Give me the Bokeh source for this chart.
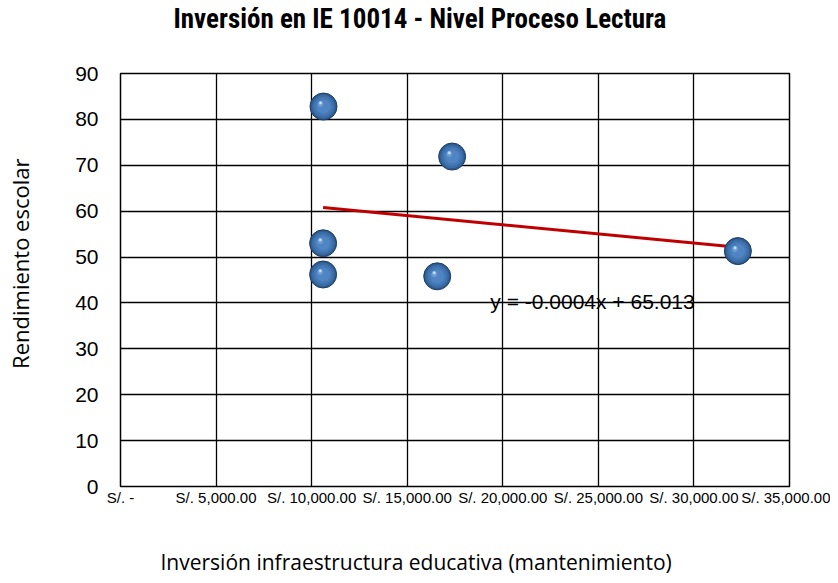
import numpy as np
from bokeh.plotting import figure
from bokeh.models import FixedTicker, Label, Title, ColumnDataSource
from bokeh.core.properties import value
from bokeh.embed import file_html
from bokeh.resources import INLINE

# ---- data ----
inversion = [10620, 17350, 10600, 10600, 16570, 32300]
rendimiento = [82.8, 71.9, 53.0, 46.2, 45.8, 51.3]
x_ticks = [0, 5000, 10000, 15000, 20000, 25000, 30000, 35000]
x_tick_labels = ["S/. -", "S/. 5,000.00", "S/. 10,000.00", "S/. 15,000.00",
                 "S/. 20,000.00", "S/. 25,000.00", "S/. 30,000.00", "S/. 35,000.00"]
y_ticks = [0, 10, 20, 30, 40, 50, 60, 70, 80, 90]
equation_text = "y = -0.0004x + 65.013"
title_text = "Inversión en IE 10014 - Nivel Proceso Lectura"
x_label = "Inversión infraestructura educativa (mantenimiento)"
y_label = "Rendimiento escolar"

p = figure(width=830, height=575, output_backend="svg", toolbar_location=None,
           x_range=(0, 35000), y_range=(0, 90),
           min_border_left=120, min_border_right=41, min_border_top=73, min_border_bottom=89)
p.title.visible = False

p.outline_line_color = "black"
p.outline_line_width = 1.5

# axes
p.xaxis.ticker = FixedTicker(ticks=x_ticks)
p.xaxis.major_label_overrides = {t: l for t, l in zip(x_ticks, x_tick_labels)}
p.yaxis.ticker = FixedTicker(ticks=y_ticks)
for ax in (p.xaxis, p.yaxis):
    ax.axis_line_color = None
    ax.major_tick_line_color = None
    ax.minor_tick_line_color = None
    ax.major_tick_out = 0
    ax.major_tick_in = 0
    ax.major_label_text_color = "black"
    ax.major_label_text_font = "Liberation Sans"
p.xaxis.major_label_text_font_size = "15px"
p.xaxis.major_label_standoff = 2
p.yaxis.major_label_text_font_size = "21px"
p.yaxis.major_label_standoff = 22

# grid
p.xgrid.ticker = FixedTicker(ticks=x_ticks)
p.ygrid.ticker = FixedTicker(ticks=y_ticks)
for g in (p.xgrid, p.ygrid):
    g.grid_line_color = "black"
    g.grid_line_width = 1.3

# trendline
m, b = np.polyfit(inversion, rendimiento, 1)
tx = np.array([min(inversion), max(inversion)])
p.line(tx, m * tx + b, line_color="#c00000", line_width=3)

# sphere markers
src = ColumnDataSource(dict(x=inversion, y=rendimiento))
p.scatter("x", "y", source=src, size=27, fill_color="#2f5b8f", line_color="#1d3d63", line_width=1)
for s, c in [(23, "#3a6ca6"), (19, "#4479b6"), (14, "#4e85c2")]:
    p.scatter("x", "y", source=src, size=s, fill_color=c, line_color=None)
p.text("x", "y", source=src, text=value("●"), text_font_size="13px", text_color="#6d9bd2",
       text_align="center", text_baseline="middle", x_offset=-3, y_offset=-3)
p.text("x", "y", source=src, text=value("●"), text_font_size="8px", text_color="#9fc0e6",
       text_align="center", text_baseline="middle", x_offset=-3, y_offset=-4)
p.text("x", "y", source=src, text=value("●"), text_font_size="4px", text_color="#dce9f7",
       text_align="center", text_baseline="middle", x_offset=-3, y_offset=-4)

# equation
p.add_layout(Label(x=19350, y=40.3, text=equation_text, text_font="Liberation Sans",
                   text_font_size="21px", text_baseline="middle", text_color="black"))


def spacer(px):
    return Title(text=" ", text_font_size="1px", standoff=px)


# title (above)
p.add_layout(spacer(36), "above")
p.add_layout(Title(text=title_text, align="left", offset=53, standoff=0,
                   text_font="'Liberation Sans Narrow', 'Roboto Condensed', 'DejaVu Sans Condensed', 'Liberation Sans', sans-serif",
                   text_font_style="bold", text_font_size="27px", text_color="black"), "above")

# x label (below)
p.add_layout(spacer(34), "below")
p.add_layout(Title(text=x_label, align="left", offset=40, standoff=0, text_font="Open Sans",
                   text_font_size="21px", text_font_style="normal", text_color="black"), "below")

# y label (left)
p.add_layout(spacer(35), "left")
p.add_layout(Title(text=y_label, align="right", offset=85, standoff=0, text_font="Open Sans",
                   text_font_size="22px", text_font_style="normal", text_color="black"), "left")

open("out.html", "w").write(file_html(p, INLINE))
